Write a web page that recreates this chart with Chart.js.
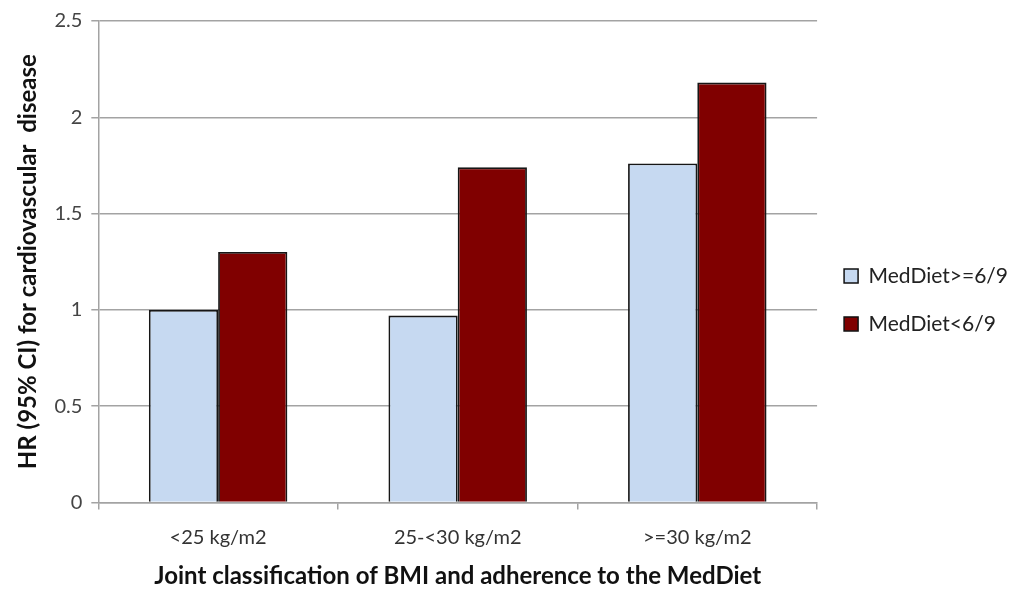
<!DOCTYPE html>
<html>
<head>
<meta charset="utf-8">
<script src="https://cdn.jsdelivr.net/npm/chart.js@4/dist/chart.umd.min.js"></script>
<style>
html,body{margin:0;padding:0;background:#fff;}
#wrap{width:1024px;height:594px;}
</style>
</head>
<body>
<div id="wrap"><canvas id="c" width="1024" height="594"></canvas></div>
<script>
const categories = ["<25 kg/m2", "25-<30 kg/m2", ">=30 kg/m2"];
const seriesNames = ["MedDiet>=6/9", "MedDiet<6/9"];
const highAdherence = [1.0, 0.97, 1.76];
const lowAdherence = [1.30, 1.74, 2.18];
const yTickStep = 0.5;
const yMax = 2.5;
const yTitle = "HR (95% CI) for cardiovascular  disease";
const xTitle = "Joint classification of BMI and adherence to the MedDiet";

const FONT = "Lato, 'Open Sans', sans-serif";
const gridColor = "#a3a3a3";

new Chart(document.getElementById('c'), {
  type: 'bar',
  data: {
    labels: categories,
    datasets: [
      { label: seriesNames[0], data: highAdherence, backgroundColor: '#c6d9f1', borderColor: '#161616', borderWidth: 1.8, borderSkipped: 'bottom' },
      { label: seriesNames[1], data: lowAdherence, backgroundColor: '#800000', borderColor: '#161616', borderWidth: 1.8, borderSkipped: 'bottom' }
    ]
  },
  options: {
    responsive: false,
    devicePixelRatio: 1,
    animation: false,
    layout: { padding: { top: 2, right: 6, left: 15, bottom: 7 } },
    datasets: { bar: { categoryPercentage: 0.578, barPercentage: 1.0 } },
    scales: {
      x: {
        grid: { display: true, drawOnChartArea: false, offset: true, color: gridColor, lineWidth: 1.5, tickLength: 7 },
        border: { display: true, color: gridColor, width: 1.5 },
        ticks: { color: '#333', font: { family: FONT, size: 20, lineHeight: 1.0 }, padding: 18 },
        title: { display: true, text: xTitle, color: '#111', font: { family: FONT, size: 24, weight: 'bold', lineHeight: 0.9 }, padding: { top: 0, bottom: 0 } }
      },
      y: {
        min: 0, max: yMax,
        ticks: { stepSize: yTickStep, color: '#444', font: { family: FONT, size: 20 }, padding: 9, callback: v => String(v) },
        grid: { color: gridColor, lineWidth: 1.5, tickLength: 7 },
        border: { display: true, color: gridColor, width: 1.5 },
        title: { display: true, text: yTitle, color: '#111', font: { family: FONT, size: 24, weight: 'bold', lineHeight: 1.1 }, padding: { top: 0, bottom: 4 } }
      }
    },
    plugins: {
      legend: {
        position: 'right',
        align: 'center',
        title: { display: true, text: ' ', font: { size: 9 }, padding: 0 },
        labels: {
          boxWidth: 14, boxHeight: 14, padding: 27,
          color: '#222',
          font: { family: FONT, size: 21 },
          generateLabels(chart) {
            return chart.data.datasets.map((d, i) => ({
              text: d.label, fillStyle: d.backgroundColor, strokeStyle: '#111', lineWidth: 1.5, datasetIndex: i, hidden: false, fontColor: '#222'
            }));
          }
        }
      },
      tooltip: { enabled: false }
    }
  }
});
</script>
</body>
</html>
